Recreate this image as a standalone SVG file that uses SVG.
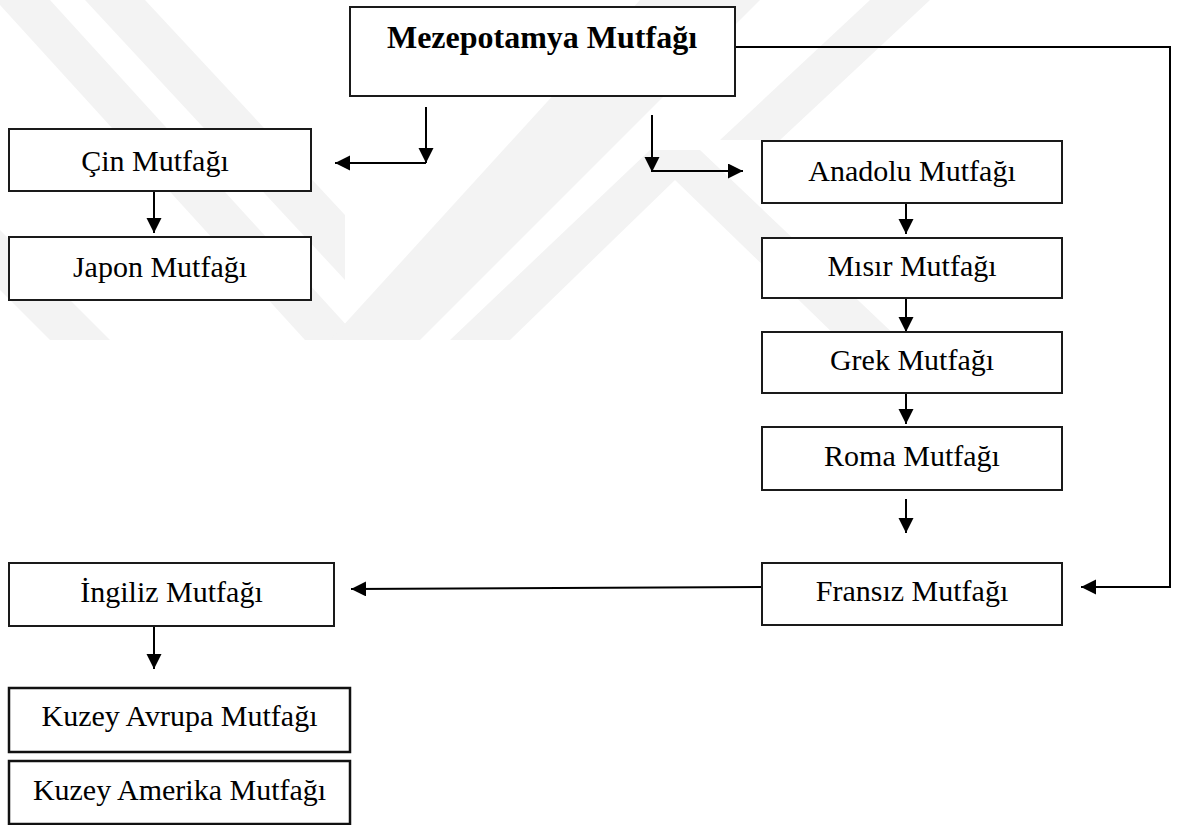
<svg xmlns="http://www.w3.org/2000/svg" width="1177" height="825" viewBox="0 0 1177 825">
  <style>
    .box { fill: #ffffff; stroke: #1a1a1a; stroke-width: 2; }
    .box2 { fill: #ffffff; stroke: #111111; stroke-width: 2.5; }
    .lbl { font-family: "Liberation Serif", "Times New Roman", serif; font-size: 30px; fill: #000000; text-anchor: middle; }
    .title { font-family: "Liberation Serif", "Times New Roman", serif; font-size: 32px; font-weight: bold; fill: #000000; text-anchor: middle; }
    .conn { fill: none; stroke: #000000; stroke-width: 2; }
    .wm { fill: #f3f3f3; }
  </style>
  <defs>
    <marker id="arrow" markerUnits="userSpaceOnUse" markerWidth="16" markerHeight="16" refX="15" refY="7.5" orient="auto">
      <path d="M0,0 L15,7.5 L0,15 z" fill="#000000"/>
    </marker>
  </defs>
  <rect width="1177" height="825" fill="#ffffff"/>
  <g id="watermark">
    <polygon class="wm" points="0,0 50,0 360,340 305,340 0,5"/>
    <polygon class="wm" points="85,0 145,0 345,215 345,280"/>
    <polygon class="wm" points="640,0 760,0 420,340 330,340"/>
    <polygon class="wm" points="650,150 700,150 900,340 840,340 675,180 510,340 450,340"/>
    <polygon class="wm" points="870,0 930,0 780,140 720,140"/>
    <polygon class="wm" points="0,230 0,290 50,340 110,340"/>
  </g>
  <g id="connectors">
    <path class="conn" d="M426,107 L426,163" marker-end="url(#arrow)"/>
    <path class="conn" d="M426,163 L335,163" marker-end="url(#arrow)"/>
    <path class="conn" d="M652,115 L652,172" marker-end="url(#arrow)"/>
    <path class="conn" d="M652,171 L743,171" marker-end="url(#arrow)"/>
    <path class="conn" d="M735,47 L1170,47 L1170,587 L1081,587" marker-end="url(#arrow)"/>
    <path class="conn" d="M154,191 L154,233" marker-end="url(#arrow)"/>
    <path class="conn" d="M906,194 L906,234" marker-end="url(#arrow)"/>
    <path class="conn" d="M906,298 L906,332" marker-end="url(#arrow)"/>
    <path class="conn" d="M906,393 L906,424" marker-end="url(#arrow)"/>
    <path class="conn" d="M906,499 L906,533" marker-end="url(#arrow)"/>
    <path class="conn" d="M762,587 L351,589" marker-end="url(#arrow)"/>
    <path class="conn" d="M154,627 L154,669" marker-end="url(#arrow)"/>
  </g>
  <g id="mezepotamya">
    <rect class="box" x="350" y="7" width="385" height="89"/>
    <text class="title" x="542" y="48">Mezepotamya Mutfağı</text>
  </g>
  <g id="cin">
    <rect class="box" x="9" y="129" width="302" height="62"/>
    <text class="lbl" x="155" y="171">Çin Mutfağı</text>
  </g>
  <g id="japon">
    <rect class="box" x="9" y="237" width="302" height="63"/>
    <text class="lbl" x="160" y="277">Japon Mutfağı</text>
  </g>
  <g id="anadolu">
    <rect class="box" x="762" y="141" width="300" height="62"/>
    <text class="lbl" x="912" y="181">Anadolu Mutfağı</text>
  </g>
  <g id="misir">
    <rect class="box" x="762" y="238" width="300" height="60"/>
    <text class="lbl" x="912" y="276">Mısır Mutfağı</text>
  </g>
  <g id="grek">
    <rect class="box" x="762" y="332" width="300" height="61"/>
    <text class="lbl" x="912" y="370">Grek Mutfağı</text>
  </g>
  <g id="roma">
    <rect class="box" x="762" y="427" width="300" height="63"/>
    <text class="lbl" x="912" y="466">Roma Mutfağı</text>
  </g>
  <g id="fransiz">
    <rect class="box" x="762" y="563" width="300" height="62"/>
    <text class="lbl" x="912" y="601">Fransız Mutfağı</text>
  </g>
  <g id="ingiliz">
    <rect class="box" x="9" y="563" width="325" height="63"/>
    <text class="lbl" x="171.5" y="602">İngiliz Mutfağı</text>
  </g>
  <g id="kuzey-avrupa">
    <rect class="box2" x="9" y="688" width="341" height="64"/>
    <text class="lbl" x="179.5" y="726">Kuzey Avrupa Mutfağı</text>
  </g>
  <g id="kuzey-amerika">
    <rect class="box2" x="9" y="761" width="341" height="63"/>
    <text class="lbl" x="179.5" y="800">Kuzey Amerika Mutfağı</text>
  </g>
</svg>
